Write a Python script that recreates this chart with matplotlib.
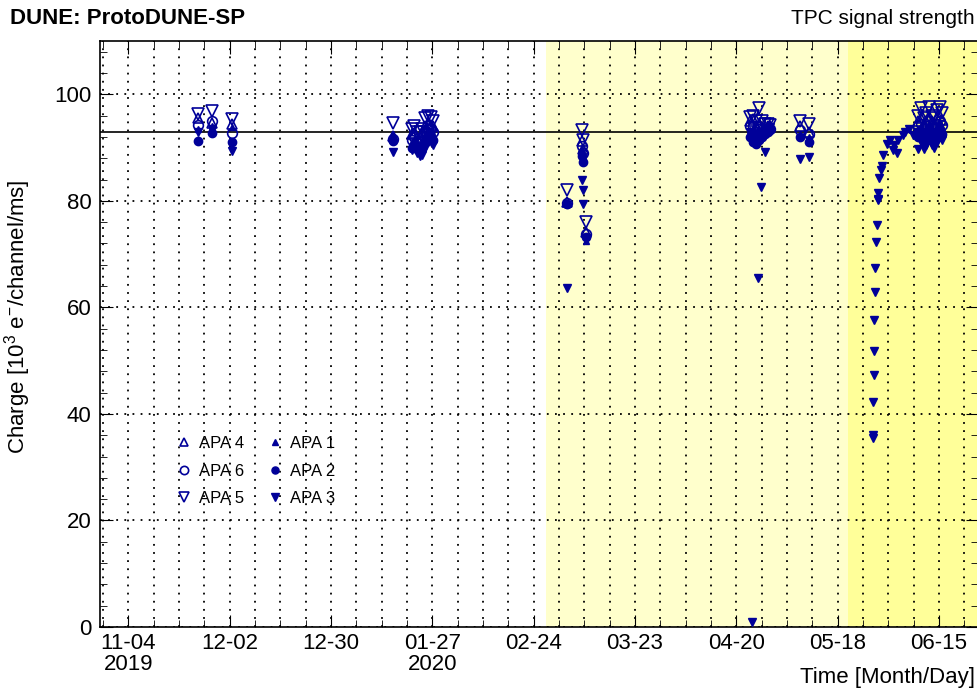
import matplotlib
matplotlib.use("Agg")
import matplotlib.pyplot as plt
import pandas as pd

plt.rcParams["font.family"] = ["Liberation Sans", "DejaVu Sans"]
plt.rcParams["mathtext.fontset"] = "custom"
plt.rcParams["mathtext.rm"] = "Liberation Sans"
plt.rcParams["mathtext.it"] = "Liberation Sans:italic"

BLUE = "#000099"

# runs shared by all six APAs
RUN_DATES = [
    "2019-11-23 02:00", "2019-11-27 00:00", "2019-12-02 17:00",
    "2020-01-16 00:00",
    "2020-01-21 06:00", "2020-01-22 00:00", "2020-01-22 18:00", "2020-01-23 12:00",
    "2020-01-24 06:00", "2020-01-25 00:00", "2020-01-25 18:00", "2020-01-26 12:00",
    "2020-01-27 06:00",
    "2020-03-04 07:00", "2020-03-08 06:00", "2020-03-08 18:00", "2020-03-09 14:00",
    "2020-04-23 20:00", "2020-04-24 16:00", "2020-04-25 12:00", "2020-04-26 08:00",
    "2020-04-27 04:00", "2020-04-28 00:00", "2020-04-28 20:00", "2020-04-29 08:00",
    "2020-05-07 14:00", "2020-05-10 00:00",
    "2020-06-09 06:00", "2020-06-10 00:00", "2020-06-10 18:00", "2020-06-11 12:00",
    "2020-06-12 06:00", "2020-06-13 00:00", "2020-06-13 18:00", "2020-06-14 12:00",
    "2020-06-15 06:00", "2020-06-15 20:00",
]

APA4 = [95.5, 94.7, 94.5, 92.2,
        92.5, 92.8, 91.8, 92.0, 92.5, 94.0, 94.5, 94.3, 94.0,
        79.8, 91.2, 89.8, 74.2,
        95.0, 95.3, 94.0, 94.5, 93.8, 93.5, 94.0, 94.0,
        94.0, 93.0,
        95.0, 95.5, 94.5, 95.0, 96.0, 95.0, 94.5, 95.5, 96.0, 95.2]
APA6 = [94.3, 95.0, 92.8, 91.6,
        91.5, 92.0, 91.0, 91.0, 91.5, 93.0, 93.5, 93.5, 93.0,
        79.6, 90.2, 89.0, 73.8,
        94.0, 94.0, 93.0, 93.5, 93.0, 93.2, 93.5, 93.5,
        93.2, 92.5,
        94.0, 94.5, 93.5, 94.0, 95.0, 94.0, 93.5, 94.5, 95.0, 94.2]
APA5 = [96.3, 96.9, 95.3, 94.7,
        93.5, 94.0, 93.0, 93.0, 93.5, 95.5, 96.0, 95.8, 95.0,
        82.0, 93.3, 91.4, 76.0,
        95.8, 96.0, 95.0, 97.5, 95.0, 94.5, 94.5, 94.3,
        95.0, 94.5,
        96.0, 97.4, 95.5, 96.5, 97.6, 96.0, 95.5, 97.0, 97.6, 96.5]
APA1 = [93.5, 94.0, 93.8, 92.5,
        91.0, 91.5, 90.5, 90.5, 91.0, 92.5, 93.0, 93.0, 92.5,
        79.5, 89.8, 88.8, 72.5,
        93.2, 93.5, 92.5, 93.0, 92.5, 93.0, 93.5, 93.8,
        92.5, 92.0,
        93.5, 94.0, 93.0, 93.5, 94.5, 93.5, 93.0, 94.0, 94.5, 93.8]
APA2 = [91.3, 92.8, 91.0, 91.2,
        90.0, 90.5, 89.8, 89.5, 90.0, 91.0, 92.0, 92.0, 91.5,
        79.4, 88.5, 87.2, 73.2,
        92.0, 91.0, 90.6, 91.5, 92.0, 92.5, 93.0, 93.5,
        92.0, 91.0,
        92.0, 92.5, 91.5, 92.0, 93.0, 92.0, 91.0, 92.5, 93.0, 92.5]
APA3 = [93.0, 93.5, 89.3, 89.2,
        89.5, 90.0, 89.0, 88.5, 88.6, 90.0, 91.0, 91.0, 90.5,
        63.7, 84.0, 82.1, 73.0,
        93.0, 92.0, 91.5, 92.5, 93.0, 89.2, 93.5, 93.8,
        87.9, 88.2,
        89.8, 91.0, 89.8, 90.5, 91.5, 90.5, 90.0, 91.0, 92.0, 91.5]

# extra APA 3 runs (drops and the recovery after the outage)
APA3_EXTRA_DATES = [
    "2020-03-08 12:00", "2020-04-24 07:00", "2020-04-25 22:00", "2020-04-26 17:00",
    "2020-05-27 16:00", "2020-05-27 17:00", "2020-05-27 19:00", "2020-05-27 22:00",
    "2020-05-28 00:00", "2020-05-28 01:00", "2020-05-28 05:00", "2020-05-28 10:00",
    "2020-05-28 14:00", "2020-05-28 19:00", "2020-05-29 04:00", "2020-05-29 05:00",
    "2020-05-29 06:00", "2020-05-29 12:00", "2020-05-30 00:00", "2020-05-30 05:00",
    "2020-05-30 14:00", "2020-05-31 17:00", "2020-06-01 12:00", "2020-06-02 05:00",
    "2020-06-02 17:00", "2020-06-03 07:00", "2020-06-03 19:00", "2020-06-05 00:00",
    "2020-06-05 14:00", "2020-06-06 19:00", "2020-06-07 17:00", "2020-06-08 22:00",
    "2020-06-10 00:00",
]
APA3_EXTRA = [79.4, 1.0, 65.5, 82.6,
              36.0, 35.4, 42.3, 47.3,
              51.8, 57.6, 62.9, 67.3,
              72.3, 75.4, 81.4, 80.4,
              80.1, 84.3, 85.7, 86.5,
              88.6, 90.7, 91.4, 89.5,
              90.4, 88.9, 91.5, 92.3,
              92.9, 93.4, 92.4, 92.9,
              92.6]

NOMINAL = 93.0
PERIOD_1 = ("2020-02-27 10:00", "2020-05-20 22:00")
PERIOD_2 = ("2020-05-20 22:00", "2020-06-27 00:00")

TICK_DATES = ["2019-11-04", "2019-12-02", "2019-12-30", "2020-01-27", "2020-02-24",
              "2020-03-23", "2020-04-20", "2020-05-18", "2020-06-15"]
TICK_LABELS = ["11-04\n2019", "12-02", "12-30", "01-27\n2020", "02-24",
               "03-23", "04-20", "05-18", "06-15"]

run_t = pd.to_datetime(RUN_DATES)
extra_t = pd.to_datetime(APA3_EXTRA_DATES)

fig = plt.figure(figsize=(9.78, 6.95), dpi=100)
ax = fig.add_axes([100 / 978, 68 / 695, 878 / 978, 586 / 695])

ax.axvspan(pd.Timestamp(PERIOD_1[0]), pd.Timestamp(PERIOD_1[1]), color="#ffffcc", lw=0, zorder=0)
ax.axvspan(pd.Timestamp(PERIOD_2[0]), pd.Timestamp(PERIOD_2[1]), color="#ffff99", lw=0, zorder=0)

ax.set_xlim(pd.Timestamp("2019-10-27 03:00"), pd.Timestamp("2020-06-25 19:00"))
ax.set_ylim(0, 110)

ax.set_xticks(pd.to_datetime(TICK_DATES))
ax.set_xticklabels(TICK_LABELS, linespacing=1.0)
ax.set_xticks(pd.date_range("2019-10-28", "2020-06-28", freq="7D"), minor=True)
ax.set_yticks([0, 20, 40, 60, 80, 100])
ax.set_yticks(range(0, 111, 4), minor=True)
ax.tick_params(axis="both", which="major", direction="in", length=9, labelsize=16,
               top=True, right=True)
ax.tick_params(axis="both", which="minor", direction="in", length=5, top=True, right=True)
ax.tick_params(axis="x", which="major", pad=4)
ax.tick_params(axis="y", which="major", pad=6)

grid_kw = dict(color="black", linestyle=(0, (1, 3.5)), linewidth=1.3)
ax.xaxis.grid(True, which="both", **grid_kw)
ax.yaxis.grid(True, which="major", **grid_kw)
ax.set_axisbelow(True)

ax.axhline(NOMINAL, color="black", lw=1.2, zorder=2)

open_kw = dict(ls="none", mfc="none", mec=BLUE, mew=1.2, zorder=3)
fill_kw = dict(ls="none", color=BLUE, zorder=4)
h4, = ax.plot(run_t, APA4, marker="^", ms=7, label="APA 4", **open_kw)
h6, = ax.plot(run_t, APA6, marker="o", ms=7, label="APA 6", **open_kw)
h5, = ax.plot(run_t, APA5, marker="v", ms=8, label="APA 5", **open_kw)
h1, = ax.plot(run_t, APA1, marker="^", ms=5, label="APA 1", **fill_kw)
h2, = ax.plot(run_t, APA2, marker="o", ms=6, label="APA 2", **fill_kw)
h3, = ax.plot(run_t, APA3, marker="v", ms=6, label="APA 3", **fill_kw)
ax.plot(extra_t, APA3_EXTRA, marker="v", ms=6, **fill_kw)

ax.legend(handles=[h4, h6, h5, h1, h2, h3], ncol=2, frameon=False,
          loc="upper left", bbox_to_anchor=(162 / 978, 1 - 421 / 695),
          bbox_transform=fig.transFigure, fontsize=12, handlelength=0.8,
          handletextpad=0.5, columnspacing=1.5, labelspacing=0.75, markerscale=0.85)

for s in ax.spines.values():
    s.set_linewidth(1.2)

ax.set_ylabel(r"Charge [10$^{3}$ e$^{-}$/channel/ms]", fontsize=16, va="center")
ax.yaxis.set_label_coords(-82 / 878, 0.53)

fig.text(10 / 978, 1 - 18 / 695, "DUNE: ProtoDUNE-SP", fontsize=16, fontweight="bold",
         ha="left", va="center")
fig.text(975 / 978, 1 - 18 / 695, "TPC signal strength", fontsize=15,
         ha="right", va="center")
fig.text(975 / 978, 1 - 677 / 695, "Time [Month/Day]", fontsize=16,
         ha="right", va="center")

fig.savefig("out.png", dpi=100)
